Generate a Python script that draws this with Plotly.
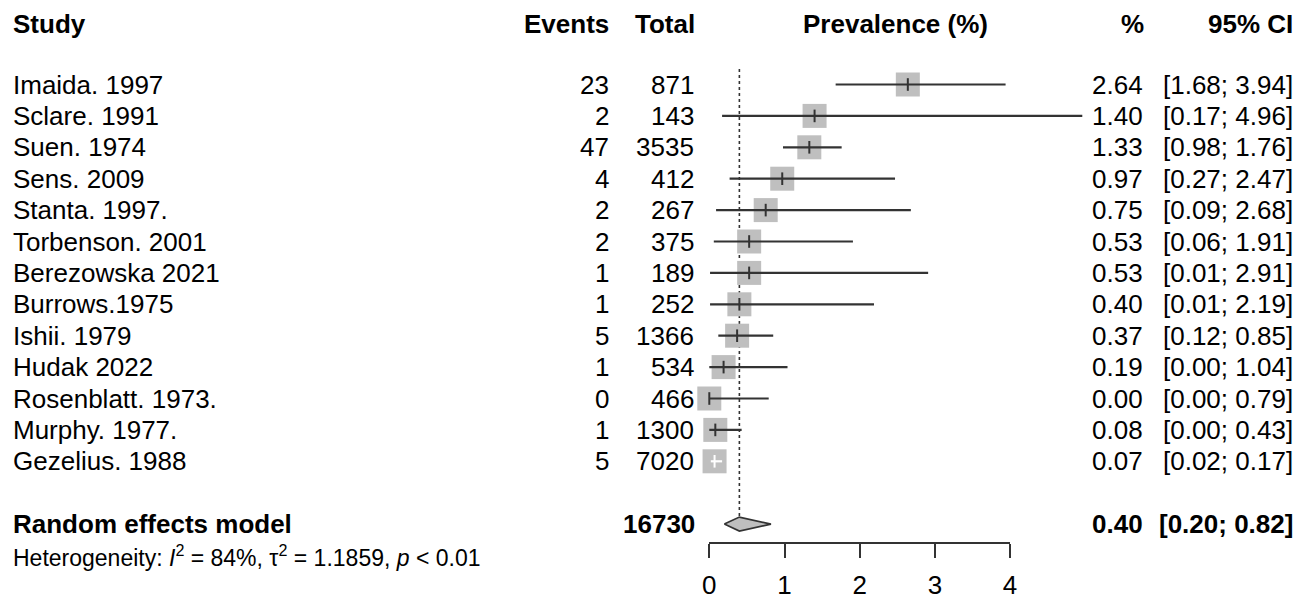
import plotly.graph_objects as go

# ---------------- data ----------------
studies = ["Imaida. 1997", "Sclare. 1991", "Suen. 1974", "Sens. 2009", "Stanta. 1997.",
           "Torbenson. 2001", "Berezowska 2021", "Burrows.1975", "Ishii. 1979", "Hudak 2022",
           "Rosenblatt. 1973.", "Murphy. 1977.", "Gezelius. 1988"]
events = [23, 2, 47, 4, 2, 2, 1, 1, 5, 1, 0, 1, 5]
totals = [871, 143, 3535, 412, 267, 375, 189, 252, 1366, 534, 466, 1300, 7020]
prev = [2.64, 1.40, 1.33, 0.97, 0.75, 0.53, 0.53, 0.40, 0.37, 0.19, 0.00, 0.08, 0.07]
ci_lo = [1.68, 0.17, 0.98, 0.27, 0.09, 0.06, 0.01, 0.01, 0.12, 0.00, 0.00, 0.00, 0.02]
ci_hi = [3.94, 4.96, 1.76, 2.47, 2.68, 1.91, 2.91, 2.19, 0.85, 1.04, 0.79, 0.43, 0.17]
re_label = "Random effects model"
re_total = 16730
re_est, re_lo, re_hi = 0.40, 0.20, 0.82
het_text = "Heterogeneity: <i>I</i><sup>2</sup> = 84%, τ<sup>2</sup> = 1.1859, <i>p</i> &lt; 0.01"
headers = ["Study", "Events", "Total", "Prevalence (%)", "%", "95% CI"]
axis_ticks = [0, 1, 2, 3, 4]

# ---------------- layout geometry ----------------
OFF = 8                                   # default page body margin
W, H = 1308 - OFF, 600 - OFF              # figure size
X0_PX, PX_PER_UNIT = 709.3 - OFF, 75.2    # pixel of value 0, pixels per 1 %
ROW0_PX, ROW_PX = 84.5 - OFF, 31.4        # pixel of first row, row spacing
FONT = "Liberation Sans, Arial, sans-serif"
FS = 26
SQ = 24                                   # square size (px)
GREY = "#bfbfbf"
LINE = "#333333"

n = len(studies)
rows = [-i for i in range(n)]
re_row = -(n + 1)
het_row = -(n + 2)
head_row = (ROW0_PX - (24 - OFF)) / ROW_PX

x_range = [-X0_PX / PX_PER_UNIT, (W - X0_PX) / PX_PER_UNIT]
y_range = [-(H - ROW0_PX) / ROW_PX, ROW0_PX / ROW_PX]


def px(x_screen):
    return (x_screen - OFF) / W


fig = go.Figure()

# reference (dotted) line at pooled estimate
dia_h = 7 / ROW_PX
fig.add_trace(go.Scatter(x=[re_est, re_est], y=[(ROW0_PX - (69 - OFF)) / ROW_PX, re_row + dia_h],
                         mode="lines", line=dict(color=LINE, width=1.6, dash="dot"),
                         hoverinfo="skip", showlegend=False))

# squares
fig.add_trace(go.Scatter(x=prev, y=rows, mode="markers",
                         marker=dict(symbol="square", size=SQ, color=GREY, line=dict(width=0)),
                         hoverinfo="skip", showlegend=False))

# CI lines + estimate ticks
half = (SQ / 2) / PX_PER_UNIT
for p, lo, hi, r in zip(prev, ci_lo, ci_hi, rows):
    inside = lo >= p - half and hi <= p + half
    col = "white" if inside else LINE
    fig.add_trace(go.Scatter(x=[lo, hi], y=[r, r], mode="lines",
                             line=dict(color=col, width=2.2),
                             hoverinfo="skip", showlegend=False))
    fig.add_trace(go.Scatter(x=[p], y=[r], mode="markers",
                             marker=dict(symbol="line-ns", size=9, color=col,
                                         line=dict(color=col, width=2)),
                             hoverinfo="skip", showlegend=False))

# diamond for pooled estimate
fig.add_trace(go.Scatter(x=[re_lo, re_est, re_hi, re_est, re_lo],
                         y=[re_row, re_row + dia_h, re_row, re_row - dia_h, re_row],
                         mode="lines", fill="toself", fillcolor=GREY,
                         line=dict(color=LINE, width=1.6),
                         hoverinfo="skip", showlegend=False))

# dummy trace so that axis x2 is drawn
fig.add_trace(go.Scatter(x=[0], y=[re_row], xaxis="x2", yaxis="y", mode="markers",
                         marker=dict(opacity=0), hoverinfo="skip", showlegend=False))

ann = []


def add(text, x_px, y, anchor, bold=False, size=FS):
    ann.append(dict(text=f"<b>{text}</b>" if bold else text, x=px(x_px), y=y,
                    xref="paper", yref="y", xanchor=anchor, yanchor="middle",
                    showarrow=False, borderpad=0,
                    font=dict(family=FONT, size=size, color="black")))


# headers
add(headers[0], 12, head_row, "left", True)
add(headers[1], 610, head_row, "right", True)
add(headers[2], 696, head_row, "right", True)
add(headers[3], 895, head_row, "center", True)
add(headers[4], 1145, head_row, "right", True)
add(headers[5], 1294, head_row, "right", True)

# study rows
for s, e, t, p, lo, hi, r in zip(studies, events, totals, prev, ci_lo, ci_hi, rows):
    add(s, 12, r, "left")
    add(str(e), 610, r, "right")
    add(str(t), 695, r, "right")
    add(f"{p:.2f}", 1144, r, "right")
    add(f"[{lo:.2f}; {hi:.2f}]", 1294, r, "right")

# pooled row
add(re_label, 12, re_row, "left", True)
add(str(re_total), 696, re_row, "right", True)
add(f"{re_est:.2f}", 1144, re_row, "right", True)
add(f"[{re_lo:.2f}; {re_hi:.2f}]", 1294, re_row, "right", True)

# heterogeneity
add(het_text, 12, het_row, "left", size=23)

axis_y_px = 543 - OFF
fig.update_layout(
    width=W, height=H,
    margin=dict(l=0, r=0, t=0, b=0, autoexpand=False),
    paper_bgcolor="white", plot_bgcolor="rgba(0,0,0,0)",
    showlegend=False,
    annotations=ann,
    xaxis=dict(range=x_range, visible=False, fixedrange=True, automargin=False),
    yaxis=dict(range=y_range, visible=False, fixedrange=True, automargin=False),
    xaxis2=dict(domain=[X0_PX / W, (X0_PX + 4 * PX_PER_UNIT) / W], range=[0, 4],
                anchor="free", position=1 - axis_y_px / H,
                showline=True, linecolor=LINE, linewidth=2,
                ticks="outside", ticklen=14, tickwidth=2, tickcolor=LINE,
                tickvals=axis_ticks, ticktext=[str(v) for v in axis_ticks],
                tickfont=dict(family=FONT, size=FS, color="black"),
                ticklabelstandoff=5, automargin=False,
                showgrid=False, zeroline=False, fixedrange=True),
)

fig.write_html("out.html")
